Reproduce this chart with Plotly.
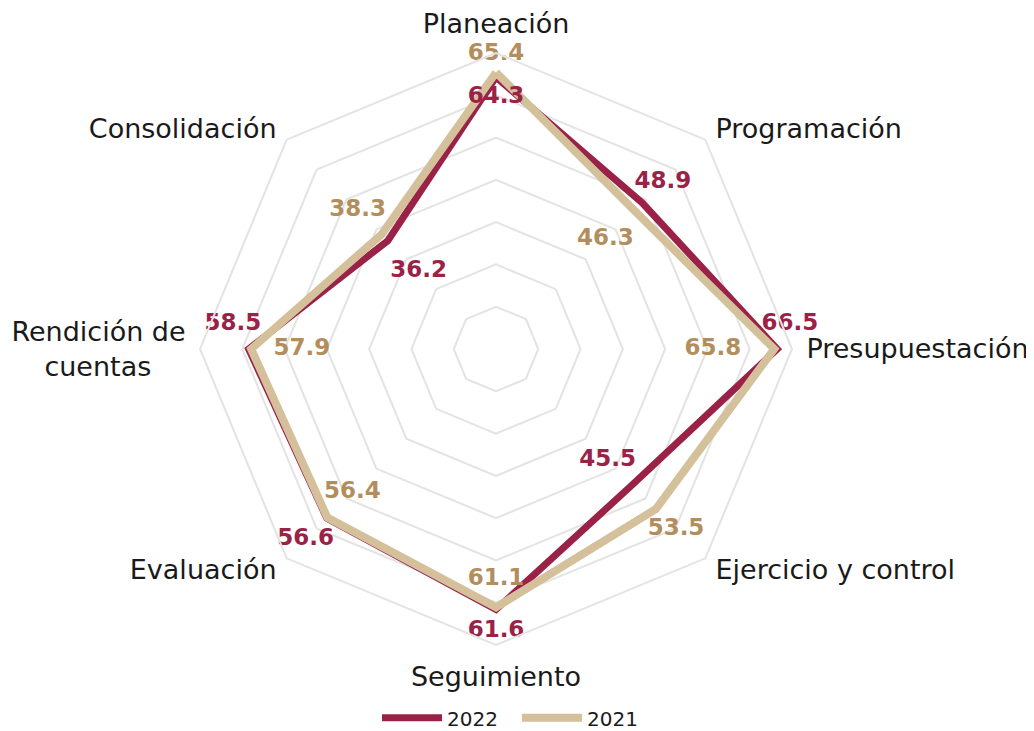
import plotly.graph_objects as go

NB = "\u00a0"
categories = ["Planeación", NB + "<br>Programación", "Presupuestación",
              "Ejercicio y control" + ("<br>" + NB) * 3,
              "Seguimiento", "Evaluación" + ("<br>" + NB) * 3,
              "Rendición de<br>cuentas" + NB * 4, NB + "<br>Consolidación"]
values_2022 = [64.3, 48.9, 66.5, 45.5, 61.6, 56.6, 58.5, 36.2]
values_2021 = [65.4, 46.3, 65.8, 53.5, 61.1, 56.4, 57.9, 38.3]
series_names = ["2022", "2021"]

# label placement (radial offsets and text positions), styling only
off_2022 = [-4.7, 6.9, 3.0, -8.2, 5.1, 7.1, 3.7, -10.3]
pos_2022 = ["middle center", "middle center", "top center", "middle center",
            "middle center", "middle center", "top center", "middle center"]
off_2021 = [-1.5, -9.7, -14.5, 6.7, -6.7, -8.4, -12.0, 8.0]
pos_2021 = ["top center"] + ["middle center"] * 7

MAROON = "#9B2247"
BEIGE = "#D4C19C"
BEIGE_TXT = "#B38E5D"
FONT = "DejaVu Sans"

def close(a):
    return list(a) + [a[0]]

fig = go.Figure()
fig.add_trace(go.Scatterpolar(
    r=close(values_2022), theta=close(categories), mode="lines", name=series_names[0],
    line=dict(color=MAROON, width=7), hoverinfo="skip"))
fig.add_trace(go.Scatterpolar(
    r=close(values_2021), theta=close(categories), mode="lines", name=series_names[1],
    line=dict(color=BEIGE, width=8), hoverinfo="skip"))

fig.add_trace(go.Scatterpolar(
    r=[v + o for v, o in zip(values_2022, off_2022)], theta=categories, mode="markers+text",
    marker=dict(size=19, color="rgba(0,0,0,0)"),
    text=[f"{v:.1f}" for v in values_2022], textposition=pos_2022,
    textfont=dict(family=FONT, size=23, color=MAROON, weight="bold"),
    showlegend=False, cliponaxis=False, hoverinfo="skip"))
fig.add_trace(go.Scatterpolar(
    r=[v + o for v, o in zip(values_2021, off_2021)], theta=categories, mode="markers+text",
    marker=dict(size=19, color="rgba(0,0,0,0)"),
    text=[f"{v:.1f}" for v in values_2021], textposition=pos_2021,
    textfont=dict(family=FONT, size=23, color=BEIGE_TXT, weight="bold"),
    showlegend=False, cliponaxis=False, hoverinfo="skip"))

fig.update_layout(
    width=1034, height=731,
    margin=dict(l=192, r=250, t=45, b=94, autoexpand=False),
    paper_bgcolor="white", plot_bgcolor="white",
    font=dict(family=FONT, color="#1a1a1a"),
    polar=dict(
        bgcolor="white",
        gridshape="linear",
        domain=dict(x=[0, 1], y=[0, 1]),
        radialaxis=dict(range=[0, 70], dtick=10, showticklabels=False, ticks="",
                        showline=False, gridcolor="#E3E3E3", gridwidth=2),
        angularaxis=dict(rotation=90, direction="clockwise", showgrid=False,
                         showline=True, linecolor="#E3E3E3", linewidth=2,
                         ticks="outside", ticklen=8, tickcolor="rgba(0,0,0,0)",
                         tickfont=dict(family=FONT, size=27, color="#1a1a1a")),
    ),
    legend=dict(orientation="h", x=0.299, xanchor="left", y=-0.123, yanchor="middle",
                font=dict(family=FONT, size=20, color="#1a1a1a"), itemwidth=60,
                entrywidth=65, entrywidthmode="pixels"),
    showlegend=True,
)

fig.write_html("out.html")
